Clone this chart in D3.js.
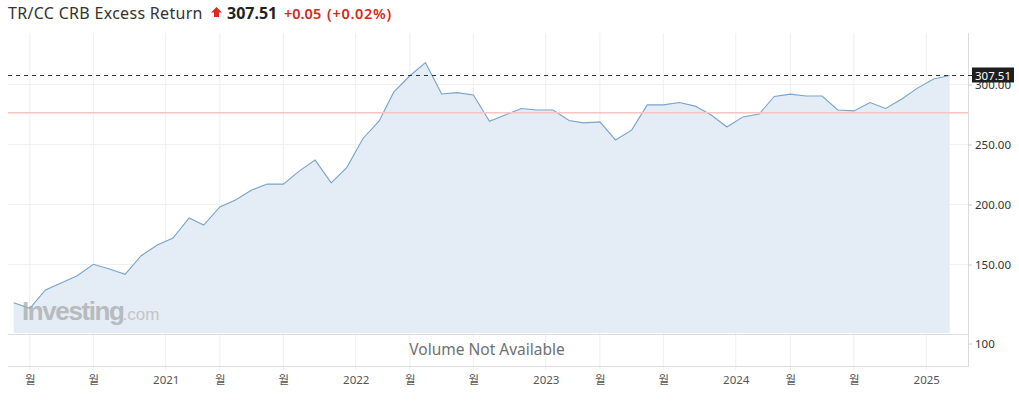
<!DOCTYPE html>
<html><head><meta charset="utf-8">
<script src="https://cdn.jsdelivr.net/npm/d3@7"></script>
<style>body{margin:0;background:#fff}svg{display:block}</style>
</head><body><svg id="c" width="1019" height="405"></svg>
<script>
// ---- data ----
const months = ["2020-03","2020-04","2020-05","2020-06","2020-07","2020-08","2020-09","2020-10","2020-11","2020-12",
"2021-01","2021-02","2021-03","2021-04","2021-05","2021-06","2021-07","2021-08","2021-09","2021-10","2021-11","2021-12",
"2022-01","2022-02","2022-03","2022-04","2022-05","2022-06","2022-07","2022-08","2022-09","2022-10","2022-11","2022-12",
"2023-01","2023-02","2023-03","2023-04","2023-05","2023-06","2023-07","2023-08","2023-09","2023-10","2023-11","2023-12",
"2024-01","2024-02","2024-03","2024-04","2024-05","2024-06","2024-07","2024-08","2024-09","2024-10","2024-11","2024-12",
"2025-01","2025-02"];
const values = [118.2,113.5,128.8,134.7,140.7,150.2,146.2,141.8,157.3,166.0,
172.0,188.8,182.9,198.0,203.8,212.0,217.0,217.0,228.0,237.0,218.0,231.0,
255.0,269.6,293.6,307.3,318.2,292.1,293.2,291.3,269.3,274.6,280.0,278.8,
278.8,270.0,268.0,268.8,253.8,262.0,283.0,283.0,285.0,282.0,274.6,264.6,
273.0,275.4,290.0,292.0,290.4,290.4,278.8,278.0,285.0,280.0,287.9,297.0,
304.6,307.51];
const yTicks = [150, 200, 250, 300];
const xTickDates = ["2020-04-15","2020-08-15","2021-01-01","2021-04-15","2021-08-15","2022-01-01","2022-04-15","2022-08-15",
"2023-01-01","2023-04-15","2023-08-15","2024-01-01","2024-04-15","2024-08-15","2025-01-01"];
const xTickLabels = ["월","월","2021","월","월","2022","월","월","2023","월","월","2024","월","월","2025"];
const lastValue = 307.51;
const refValue = 276.5;
const volumeTicks = ["100"];
const titleName = "TR/CC CRB Excess Return";
const titlePrice = "307.51";
const titleChange = "+0.05";
const titlePct = "(+0.02%)";

// ---- layout ----
const plotLeft = 8, plotRight = 968, paneTop = 33, paneBottom = 334, axisY = 366;
const svg = d3.select("#c");
const font = "'Noto Sans','Noto Sans CJK KR',sans-serif";

const parse = d3.utcParse("%Y-%m-%d");
const data = months.map((m, i) => ({date: parse(m + "-15"), value: values[i]}));

const x = d3.scaleUtc().domain([parse("2020-03-15"), parse("2025-02-15")]).range([13.7, 949.7]);
const y = d3.scaleLinear().domain([150, 250]).range([264.5, 144.5]);

// gridlines
const g = svg.append("g");
g.selectAll(".vg").data(xTickDates).join("line")
  .attr("x1", d => x(parse(d))).attr("x2", d => x(parse(d)))
  .attr("y1", paneTop).attr("y2", axisY + 4)
  .attr("stroke", "#efefef").attr("stroke-width", 1);
g.selectAll(".hg").data(yTicks).join("line")
  .attr("x1", plotLeft).attr("x2", plotRight)
  .attr("y1", d => y(d)).attr("y2", d => y(d))
  .attr("stroke", "#f0f0f0");

// area + line
const area = d3.area().x(d => x(d.date)).y0(paneBottom - 1).y1(d => y(d.value));
const line = d3.line().x(d => x(d.date)).y(d => y(d.value));
svg.append("path").datum(data).attr("d", area).attr("fill", "#e4edf6");
svg.append("path").datum(data).attr("d", line).attr("fill", "none")
  .attr("stroke", "#78a3ca").attr("stroke-width", 1.1);

// reference (red) line
svg.append("line").attr("x1", plotLeft).attr("x2", plotRight)
  .attr("y1", y(refValue)).attr("y2", y(refValue))
  .attr("stroke", "#f7c4c4").attr("stroke-width", 1.5);

// watermark
const wm = svg.append("text").attr("x", 22).attr("y", 320)
  .attr("font-family", "'Liberation Sans',Arial,sans-serif").attr("fill", "#aaaaaa").attr("opacity", 0.75);
wm.append("tspan").text("Investing").attr("font-size", 26).attr("font-weight", "bold").attr("letter-spacing", -1.4);
wm.append("tspan").text(".com").attr("font-size", 17).attr("dx", -1).attr("fill", "#b8b8b8");

// pane separators & axes
svg.append("line").attr("x1", plotLeft).attr("x2", plotRight).attr("y1", paneBottom + 0.5).attr("y2", paneBottom + 0.5).attr("stroke", "#dcdcdc");
svg.append("line").attr("x1", plotLeft).attr("x2", plotRight).attr("y1", axisY + 0.5).attr("y2", axisY + 0.5).attr("stroke", "#dcdcdc");
svg.append("line").attr("x1", plotRight + 0.5).attr("x2", plotRight + 0.5).attr("y1", paneTop).attr("y2", axisY + 1).attr("stroke", "#dcdcdc");

// right axis
const yAxis = d3.axisRight(y).tickValues(yTicks).tickSize(4).tickPadding(3).tickFormat(d3.format(".2f"));
const ya = svg.append("g").attr("transform", `translate(${plotRight},0)`).call(yAxis);
ya.select(".domain").remove();
ya.selectAll("line").attr("stroke", "#cccccc");
ya.selectAll("text").attr("font-family", font).attr("font-size", 11.5).attr("fill", "#333");

// volume pane
svg.append("g").selectAll("text").data(volumeTicks).join("text")
  .attr("x", plotRight + 7).attr("y", paneBottom + 10).attr("dy", "0.35em")
  .attr("font-family", font).attr("font-size", 11.5).attr("fill", "#333").text(d => d);
svg.append("line").attr("x1", plotRight).attr("x2", plotRight + 4).attr("y1", paneBottom + 10).attr("y2", paneBottom + 10).attr("stroke", "#ccc");
svg.append("text").attr("x", (plotLeft + plotRight) / 2 - 1).attr("y", paneBottom + 16).attr("dy", "0.35em")
  .attr("text-anchor", "middle").attr("font-family", font).attr("font-size", 15.5).attr("fill", "#707070")
  .text("Volume Not Available");

// x axis
const xAxis = d3.axisBottom(x).tickValues(xTickDates.map(parse)).tickSize(0).tickPadding(10)
  .tickFormat((d, i) => xTickLabels[i]);
const xa = svg.append("g").attr("transform", `translate(0,${axisY})`).call(xAxis);
xa.select(".domain").remove();
xa.selectAll("text").attr("font-family", font).attr("font-size", 11.5).attr("fill", "#555");

// last value dashed line + label
svg.append("line").attr("x1", plotLeft).attr("x2", plotRight + 4)
  .attr("y1", y(lastValue)).attr("y2", y(lastValue))
  .attr("stroke", "#333").attr("stroke-dasharray", "4,4").attr("stroke-width", 1);
svg.append("rect").attr("x", plotRight + 4).attr("y", y(lastValue) - 8).attr("width", 42).attr("height", 15)
  .attr("fill", "#1e1e1e");
svg.append("text").attr("x", plotRight + 25).attr("y", y(lastValue)).attr("dy", "0.35em")
  .attr("text-anchor", "middle").attr("font-family", font).attr("font-size", 11.5).attr("fill", "#fff")
  .text(d3.format(".2f")(lastValue));

// title
svg.append("text").attr("x", 8).attr("y", 19).attr("font-family", font).attr("font-size", 16)
  .attr("letter-spacing", 0.3).attr("fill", "#333").text(titleName);
svg.append("path").attr("d", "M216.5,7 L222,12.5 L219,12.5 L219,17 L214,17 L214,12.5 L211,12.5 Z").attr("fill", "#dd2a1d");
svg.append("text").attr("x", 227).attr("y", 19).attr("font-family", font).attr("font-size", 16)
  .attr("font-weight", "bold").attr("fill", "#222").text(titlePrice);
svg.append("text").attr("x", 284).attr("y", 19).attr("font-family", font).attr("font-size", 14.5)
  .attr("font-weight", 600).attr("fill", "#d6281c").text(titleChange);
svg.append("text").attr("x", 327).attr("y", 19).attr("font-family", font).attr("font-size", 14.5)
  .attr("font-weight", 600).attr("letter-spacing", 0.7).attr("fill", "#d6281c").text(titlePct);
</script></body></html>
